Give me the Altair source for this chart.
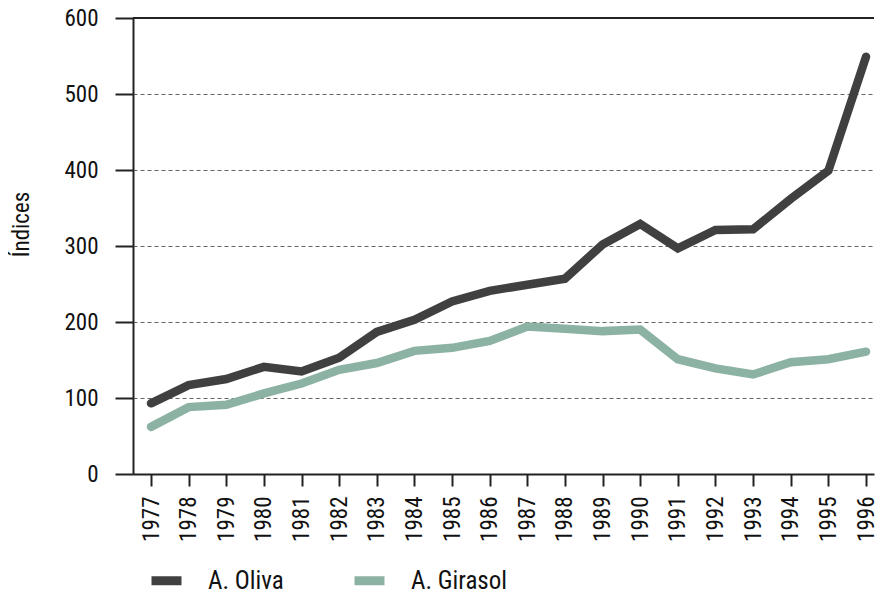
import altair as alt
import pandas as pd

years = list(range(1977, 1997))
oliva = [93, 117, 125, 141, 135, 153, 187, 203, 227, 241, 249, 257, 302, 329, 297, 321, 322, 362, 399, 549]
girasol = [62, 88, 91, 106, 119, 137, 146, 162, 166, 175, 194, 191, 188, 190, 151, 139, 131, 147, 151, 161]
series = ["A. Oliva", "A. Girasol"]
colors = ["#404040", "#8cb2a3"]
y_ticks = [0, 100, 200, 300, 400, 500, 600]

rows = []
for name, vals in zip(series, [oliva, girasol]):
    for yr, v in zip(years, vals):
        rows.append({"Año": yr, "Índice": v, "Serie": name})
df = pd.DataFrame(rows)

FONT = "'Roboto Condensed', 'DejaVu Sans Condensed', 'Liberation Sans Narrow', 'Arial Narrow', sans-serif"
W, H = 741, 456
step = (866 - 151) / 19
x_min = 1977 - 18 / step
x_max = 1996 + 8 / step

lines = alt.Chart(df).mark_line(strokeWidth=8.5, strokeCap="round", strokeJoin="miter").encode(
    x=alt.X("Año:Q", scale=alt.Scale(domain=[x_min, x_max], nice=False, zero=False),
            axis=alt.Axis(values=years, format="d", labelAngle=-90, labelAlign="right",
                          labelBaseline="middle", tickSize=12, labelPadding=10,
                          grid=False, title=None, labelFontSize=23, labelFont=FONT,
                          labelColor="#111", domainColor="#222", tickColor="#222",
                          domainWidth=2, tickWidth=2)),
    y=alt.Y("Índice:Q", scale=alt.Scale(domain=[0, 600], nice=False),
            axis=alt.Axis(values=y_ticks, tickSize=18, labelPadding=17, grid=True,
                          gridDash=[4, 3], gridColor="#666", gridWidth=1.2,
                          title="Índices", titleFont=FONT, titleFontSize=23,
                          titleFontWeight="normal", titleColor="#111",
                          titleX=-100, titleY=206, titleAngle=270,
                          labelFontSize=23, labelFont=FONT, labelColor="#111",
                          domainColor="#222", tickColor="#222", domainWidth=2, tickWidth=2)),
    color=alt.Color("Serie:N", scale=alt.Scale(domain=series, range=colors),
                    legend=alt.Legend(orient="none", legendX=14, legendY=543, direction="horizontal",
                                      columns=2, title=None, symbolType="stroke", symbolSize=900,
                                      symbolStrokeWidth=9, labelOffset=22, columnPadding=52,
                                      labelFont=FONT, labelFontSize=25, labelColor="#111",
                                      padding=0)),
    order=alt.Order("Año:Q"),
)

top_rule = alt.Chart(pd.DataFrame({"v": [600]})).mark_rule(color="#222", strokeWidth=2).encode(
    y=alt.Y("v:Q")
)

chart = alt.layer(top_rule, lines).properties(
    width=W, height=H,
    autosize=alt.AutoSizeParams(type="none"),
    padding={"left": 125, "top": 10, "right": 4, "bottom": 117},
).configure_view(stroke=None)

chart.save("out.html", embed_options={"renderer": "svg", "actions": False})
